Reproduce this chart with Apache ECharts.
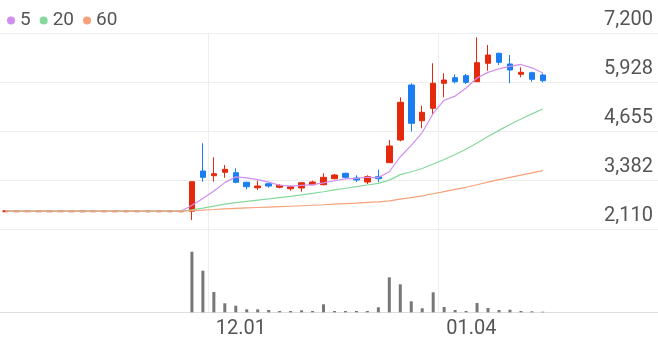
<!DOCTYPE html>
<html>
<head>
<meta charset="utf-8">
<script src="https://cdn.jsdelivr.net/npm/echarts@6/dist/echarts.min.js"></script>
<style>
html,body{margin:0;padding:0;background:#fff;}
#chart{width:658px;height:342px;}
</style>
</head>
<body>
<div id="chart"></div>
<script>
// ---- data ----
const dates = [
  '11.06','11.07','11.08','11.09','11.10','11.13','11.14','11.15','11.16','11.17',
  '11.20','11.21','11.22','11.23','11.24','11.27','11.28',
  '11.29','11.30','12.01','12.04','12.05','12.06','12.07','12.08','12.11','12.12',
  '12.13','12.14','12.15','12.18','12.19','12.20','12.21','12.22','12.26','12.27',
  '12.28','01.02','01.03','01.04','01.05','01.08','01.09','01.10','01.11','01.12',
  '01.15','01.16','01.17',
  '01.18','01.19','01.22','01.23','01.24','01.25','01.26','01.29','01.30','01.31'
];
const openP  = [2580,2580,2580,2580,2580,2580,2580,2580,2580,2580,2580,2580,2580,2580,2580,2580,2580,
  2580,3624,3502,3590,3580,3331,3190,3294,3201,3164,3183,3268,3268,3424,3564,3442,3338,3476,3840,4429,
  5857,4930,5252,5902,6047,6099,5943,6421,6681,6403,6135,6177,6117];
const closeP = [2580,2580,2580,2580,2580,2580,2580,2580,2580,2580,2580,2580,2580,2580,2580,2580,2580,
  3346,3460,3554,3668,3331,3216,3234,3234,3253,3216,3320,3338,3460,3520,3460,3390,3476,3424,4273,5408,
  4863,5148,5902,5987,5943,5927,6437,6636,6447,6247,6187,6005,5969];
const lowP   = [2580,2580,2580,2580,2580,2580,2580,2580,2580,2580,2580,2580,2580,2580,2580,2580,2580,
  2351,3346,3346,3450,3305,3149,3131,3190,3175,3112,3086,3253,3253,3408,3424,3338,3286,3330,3840,4395,
  4645,4733,5104,5538,5901,5883,5943,6229,6377,5902,6057,5943,5927];
const highP  = [2580,2580,2580,2580,2580,2580,2580,2580,2580,2580,2580,2580,2580,2580,2580,2580,2580,
  3346,4343,3980,3780,3694,3346,3372,3320,3279,3242,3320,3372,3564,3546,3580,3512,3512,3660,4429,5538,
  5901,5320,6421,6161,6135,6143,7096,6896,6697,6637,6317,6203,6161];
const volume = [0,0,0,0,0,0,0,0,0,0,0,0,0,0,0,0,0,
  6060,4160,2030,900,660,300,300,230,130,130,200,130,800,130,130,130,130,500,3500,2800,
  1100,400,2000,530,230,130,930,430,230,260,130,100,60];
const ma5  = [2580,2580,2580,2580,2580,2580,2580,2580,2580,2580,2580,2580,2580,2580,2580,2580,2580,
  2733,2909,3104,3322,3472,3446,3401,3337,3254,3231,3251,3272,3317,3371,3420,3434,3461,3454,3605,3994,
  4289,4623,5119,5462,5569,5781,6039,6186,6278,6339,6391,6304,6171];
const ma20 = [2580,2580,2580,2580,2580,2580,2580,2580,2580,2580,2580,2580,2580,2580,2580,2580,2580,
  2618,2662,2711,2765,2803,2835,2868,2900,2934,2966,3003,3041,3085,3132,3176,3216,3261,3303,3388,3529,
  3605,3689,3807,3923,4053,4189,4349,4519,4679,4830,4974,5107,5233];
const ma60 = [2580,2580,2580,2580,2580,2580,2580,2580,2580,2580,2580,2580,2580,2580,2580,2580,2580,
  2593,2607,2624,2642,2654,2665,2676,2687,2698,2709,2721,2734,2748,2764,2779,2792,2807,2821,2849,2896,
  2934,2977,3033,3089,3145,3201,3266,3333,3398,3459,3519,3576,3632];
const maNames = ['5','20','60'];
const yTickLabels = ['2,110','3,382','4,655','5,928','7,200'];
const yMin = 2110, yMax = 7200, yStep = 1272.5;
const xTickLabels = ['12.01','01.04'];

// ---- build ----
const UP = '#e5290c', DOWN = '#1a7ef2';
const maColors = ['#cf8ff0','#86d99c','#f5a27a'];
const candle = openP.map((o,i)=>{
  const item = {value:[o, closeP[i], lowP[i], highP[i]]};
  if (o === closeP[i]) item.itemStyle = {borderColor:UP, borderColor0:UP, borderColorDoji:UP, borderWidth:2};
  return item;
});
const showX = (i, v) => xTickLabels.indexOf(v) >= 0;

const chart = echarts.init(document.getElementById('chart'), null, {renderer:'canvas'});
chart.setOption({
  animation:false,
  backgroundColor:'#fff',
  textStyle:{fontFamily:'Roboto'},
  legend:{
    data:maNames, left:2, top:6, icon:'circle', itemWidth:8, itemHeight:8, itemGap:9,
    textStyle:{fontSize:19, color:'#555', fontFamily:'Roboto'}
  },
  grid:[
    {left:0, right:0, top:33.3, height:196},
    {left:0, right:0, top:229.3, height:83}
  ],
  xAxis:[
    {type:'category', gridIndex:0, data:dates, boundaryGap:true,
     axisLine:{show:false}, axisTick:{show:false}, axisLabel:{show:false},
     splitLine:{show:true, interval:showX, lineStyle:{color:'#eeeeee', width:1}}},
    {type:'category', gridIndex:1, data:dates, boundaryGap:true,
     axisLine:{show:true, lineStyle:{color:'#dddddd', width:1}}, axisTick:{show:false},
     axisLabel:{show:true, interval:showX, align:'left', padding:[0,0,0,2], margin:7,
       fontSize:20, color:'#555', fontFamily:'Roboto'},
     splitLine:{show:true, interval:showX, lineStyle:{color:'#eeeeee', width:1}}}
  ],
  yAxis:[
    {type:'value', gridIndex:0, position:'right', min:yMin, max:yMax, interval:yStep,
     axisLine:{show:false}, axisTick:{show:false},
     axisLabel:{inside:true, margin:5, verticalAlign:'bottom', fontSize:20, color:'#555',
       fontFamily:'Roboto', padding:[0,0,3,0],
       formatter:(v)=>yTickLabels[Math.round((v-yMin)/yStep)]},
     splitLine:{show:true, lineStyle:{color:'#eeeeee', width:1}}},
    {type:'value', gridIndex:1, min:0, max:(e)=>e.max*1.37, show:false, splitLine:{show:false}}
  ],
  series:[
    {name:maNames[0], type:'line', xAxisIndex:0, yAxisIndex:0, data:ma5, symbol:'none',
     itemStyle:{color:maColors[0]}, lineStyle:{color:maColors[0], width:1.2}},
    {name:maNames[1], type:'line', xAxisIndex:0, yAxisIndex:0, data:ma20, symbol:'none',
     itemStyle:{color:maColors[1]}, lineStyle:{color:maColors[1], width:1.2}},
    {name:maNames[2], type:'line', xAxisIndex:0, yAxisIndex:0, data:ma60, symbol:'none',
     itemStyle:{color:maColors[2]}, lineStyle:{color:maColors[2], width:1.2}},
    {name:'price', type:'candlestick', xAxisIndex:0, yAxisIndex:0, data:candle, barWidth:6,
     itemStyle:{color:UP, color0:DOWN, borderColor:UP, borderColor0:DOWN, borderColorDoji:UP, borderWidth:1}},
    {name:'vol', type:'bar', xAxisIndex:1, yAxisIndex:1, data:volume, barWidth:3,
     itemStyle:{color:'#777777'}}
  ]
});
</script>
</body>
</html>
